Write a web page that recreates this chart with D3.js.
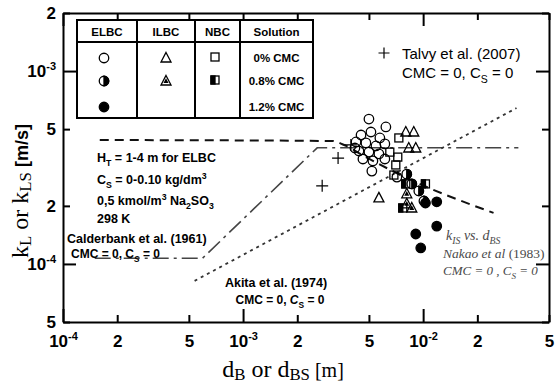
<!DOCTYPE html>
<html>
<head>
<meta charset="utf-8">
<script src="https://cdn.jsdelivr.net/npm/d3@7"></script>
<style>
  body { margin: 0; background: #fff; }
  svg { display: block; font-family: "Liberation Sans", Arial, sans-serif; }
</style>
</head>
<body>
<svg id="chart" width="555" height="387"></svg>
<script>
// tick values (log axes)
const xTicks = [1e-4, 2e-4, 5e-4, 1e-3, 2e-3, 5e-3, 1e-2, 2e-2, 5e-2];
const yTicks = [5e-5, 1e-4, 2e-4, 5e-4, 1e-3, 2e-3];

// [d (m), k (m/s)]
const elbc0 = [[5.0e-3, 5.64e-4], [6.21e-3, 5.13e-4], [4.52e-3, 4.66e-4], [5.13e-3, 4.83e-4],
  [5.75e-3, 4.50e-4], [4.24e-3, 4.29e-4], [4.81e-3, 4.24e-4], [5.47e-3, 4.09e-4],
  [6.13e-3, 4.19e-4], [4.40e-3, 3.85e-4], [5.0e-3, 3.80e-4], [5.68e-3, 3.72e-4],
  [4.63e-3, 3.50e-4], [5.26e-3, 3.42e-4], [6.13e-3, 3.50e-4], [5.19e-3, 3.03e-4],
  [4.18e-3, 3.99e-4], [7.15e-3, 2.82e-4]];
const elbc08 = [[8.11e-3, 2.92e-4], [9.46e-3, 2.39e-4], [1.01e-2, 2.12e-4], [8.65e-3, 2.60e-4]];
const elbc12 = [[1.03e-2, 2.07e-4], [1.19e-2, 2.10e-4], [1.19e-2, 1.57e-4], [9.10e-3, 1.43e-4], [9.70e-3, 1.21e-4]];
const ilbc0 = [[8.01e-3, 4.83e-4], [8.87e-3, 4.83e-4], [8.32e-3, 3.99e-4], [9.10e-3, 3.99e-4], [5.68e-3, 2.20e-4]];
const ilbc08 = [[8.11e-3, 2.31e-4], [8.11e-3, 2.05e-4], [8.65e-3, 1.95e-4]];
const nbc0 = [[7.33e-3, 4.50e-4], [6.53e-3, 3.80e-4], [7.23e-3, 3.58e-4], [7.05e-3, 3.26e-4], [6.88e-3, 2.89e-4]];
const nbc08 = [[8.01e-3, 2.60e-4], [1.03e-2, 2.60e-4], [7.71e-3, 1.95e-4]];
const talvy = [[3.37e-3, 3.54e-4], [2.75e-3, 2.54e-4], [3.97e-3, 4.14e-4]];

// correlation lines
const calderbank = [[1.5e-4, 1.07e-4], [5.95e-4, 1.07e-4], [2.58e-3, 4.0e-4], [3.38e-2, 4.0e-4]];
const nakao = [[1.6e-4, 4.39e-4], [3.12e-3, 4.34e-4], [3.73e-3, 4.09e-4], [4.69e-3, 3.63e-4], [8.11e-3, 2.79e-4], [2.46e-2, 1.84e-4]];
const akita = [[5.38e-4, 8.17e-5], [3.30e-2, 6.43e-4]];

// legend table
const legendHeaders = ['ELBC', 'ILBC', 'NBC', 'Solution'];
const legendRows = ['0% CMC', '0.8% CMC', '1.2% CMC'];

const W = 555, H = 387;
const plot = { left: 63, right: 549, top: 13, bottom: 322 };

const x = d3.scaleLog().domain([1e-4, 5e-2]).range([plot.left, plot.right]);
const y = d3.scaleLog().domain([5e-5, 2e-3]).range([plot.bottom, plot.top]);

const svg = d3.select('#chart');
svg.append('rect').attr('width', W).attr('height', H).attr('fill', '#fff');

const isMajor = v => Math.abs(Math.log10(v) - Math.round(Math.log10(v))) < 1e-6;

function tickLabels(sel) {
	sel.each(function(v) {
		const t = d3.select(this).text(null);
		if (isMajor(v)) {
			t.append('tspan').text('10');
			t.append('tspan').attr('dy', -7).attr('font-size', 11).text(Math.round(Math.log10(v)));
		} else {
			t.text(Math.round(v / 10 ** Math.floor(Math.log10(v))));
		}
	});
}

function styleAxis(g) {
	g.attr('font-family', '"Liberation Sans", Arial, sans-serif')
		.attr('font-size', 17).attr('font-weight', 'bold');
	g.select('.domain').attr('stroke-width', 2);
	g.selectAll('.tick line').attr('stroke-width', 2);
}

// axes (ticks point inwards, decades longer)
const axisB = svg.append('g').attr('transform', `translate(0,${plot.bottom})`)
	.call(d3.axisBottom(x).tickValues(xTicks).tickSizeInner(-7).tickSizeOuter(0).tickPadding(13));
const axisT = svg.append('g').attr('transform', `translate(0,${plot.top})`)
	.call(d3.axisTop(x).tickValues(xTicks).tickSizeInner(-7).tickSizeOuter(0).tickFormat(''));
const axisL = svg.append('g').attr('transform', `translate(${plot.left},0)`)
	.call(d3.axisLeft(y).tickValues(yTicks).tickSizeInner(-7).tickSizeOuter(0).tickPadding(7));
const axisR = svg.append('g').attr('transform', `translate(${plot.right},0)`)
	.call(d3.axisRight(y).tickValues(yTicks).tickSizeInner(-7).tickSizeOuter(0).tickFormat(''));
[axisB, axisT, axisL, axisR].forEach(styleAxis);
axisB.selectAll('.tick line').attr('y2', d => isMajor(d) ? -13 : -7);
axisT.selectAll('.tick line').attr('y2', d => isMajor(d) ? 13 : 7);
axisL.selectAll('.tick line').attr('x2', d => isMajor(d) ? 13 : 7);
axisR.selectAll('.tick line').attr('x2', d => isMajor(d) ? -13 : -7);
axisB.selectAll('.tick text').call(tickLabels);
axisL.selectAll('.tick text').call(tickLabels);

// correlation lines
const line = d3.line().x(d => x(d[0])).y(d => y(d[1]));
const lines = svg.append('g').attr('fill', 'none');
lines.append('path').attr('d', line(calderbank))
	.attr('stroke', '#444').attr('stroke-width', 1.6).attr('stroke-dasharray', '16,5,3,5');
lines.append('path').attr('d', line.curve(d3.curveMonotoneX)(nakao))
	.attr('stroke', '#111').attr('stroke-width', 2).attr('stroke-dasharray', '9,6');
line.curve(d3.curveLinear);
lines.append('path').attr('d', line(akita))
	.attr('stroke', '#333').attr('stroke-width', 1.8).attr('stroke-dasharray', '3,4');

// markers
function marker(g, shape, fill, cx, cy, s) {
	const m = g.append('g').attr('stroke', '#000').attr('stroke-width', 1.3);
	if (shape === 'circle') {
		const r = s / 2;
		m.append('circle').attr('cx', cx).attr('cy', cy).attr('r', r)
			.attr('fill', fill === 'full' ? '#000' : 'none');
		if (fill === 'half') m.append('path').attr('fill', '#000')
			.attr('d', `M${cx},${cy - r}A${r},${r} 0 0 1 ${cx},${cy + r}Z`);
	} else if (shape === 'square') {
		const h = s / 2;
		m.append('rect').attr('x', cx - h).attr('y', cy - h).attr('width', s).attr('height', s).attr('fill', 'none');
		if (fill === 'half') m.append('rect').attr('x', cx - h).attr('y', cy - h)
			.attr('width', h).attr('height', s).attr('fill', '#000');
	} else if (shape === 'triangle') {
		const tri = k => `M${cx},${cy - s * 0.55 * k}L${cx + s / 2 * k},${cy + s * 0.4 * k}L${cx - s / 2 * k},${cy + s * 0.4 * k}Z`;
		m.append('path').attr('d', tri(1)).attr('fill', 'none');
		if (fill === 'half') m.append('path').attr('d', tri(0.5)).attr('fill', '#000').attr('stroke', 'none');
	} else if (shape === 'plus') {
		const h = s / 2;
		m.append('path').attr('d', `M${cx - h},${cy}H${cx + h}M${cx},${cy - h}V${cy + h}`).attr('stroke-width', 1.2);
	}
}

const pts = svg.append('g');
[[elbc0, 'circle', 'open', 9.5], [nbc0, 'square', 'open', 8], [ilbc0, 'triangle', 'open', 10],
 [talvy, 'plus', 'open', 12], [elbc08, 'circle', 'half', 9.5], [nbc08, 'square', 'half', 8],
 [ilbc08, 'triangle', 'half', 10], [elbc12, 'circle', 'full', 9.5]]
	.forEach(([data, shape, fill, s]) => data.forEach(d => marker(pts, shape, fill, x(d[0]), y(d[1]), s)));

// rich text helper: parts are strings or [text, 'sub'|'sup'|null, extraAttrs]
function rich(g, px, py, parts, size, attrs, subShift = 0.3) {
	const t = g.append('text').attr('x', px).attr('y', py).attr('font-size', size);
	Object.entries(attrs || {}).forEach(([k, v]) => t.attr(k, v));
	let shift = 0;
	parts.forEach(p => {
		const [str, mode, extra] = typeof p === 'string' ? [p] : p;
		const target = mode === 'sub' ? size * subShift : mode === 'sup' ? -size * 0.4 : 0;
		const ts = t.append('tspan').attr('dy', target - shift).text(str);
		if (mode) ts.attr('font-size', size * 0.7);
		Object.entries(extra || {}).forEach(([k, v]) => ts.attr(k, v));
		shift = target;
	});
	return t;
}

// legend table
const cols = [77, 137, 195, 240, 313];
const rowsY = [20, 42, 118];
const rowC = [58, 81, 107];
const lg = svg.append('g');
lg.append('rect').attr('x', cols[0]).attr('y', rowsY[0]).attr('width', cols[4] - cols[0])
	.attr('height', rowsY[2] - rowsY[0]).attr('fill', '#fff').attr('stroke', '#000').attr('stroke-width', 2);
lg.append('line').attr('x1', cols[0]).attr('x2', cols[4]).attr('y1', rowsY[1]).attr('y2', rowsY[1])
	.attr('stroke', '#000').attr('stroke-width', 2);
cols.slice(1, 4).forEach(c => lg.append('line').attr('x1', c).attr('x2', c)
	.attr('y1', rowsY[0]).attr('y2', rowsY[2]).attr('stroke', '#000').attr('stroke-width', 2));
legendHeaders.forEach((h, i) => lg.append('text').attr('x', (cols[i] + cols[i + 1]) / 2).attr('y', 36)
	.attr('text-anchor', 'middle').attr('font-size', 11.5).attr('font-weight', 'bold').text(h));
legendRows.forEach((r, i) => lg.append('text').attr('x', (cols[3] + cols[4]) / 2).attr('y', rowC[i] + 4)
	.attr('text-anchor', 'middle').attr('font-size', 11.5).attr('font-weight', 'bold').text(r));
const fills = ['open', 'half', 'full'];
legendRows.forEach((r, i) => marker(lg, 'circle', fills[i], 104, rowC[i], 9.5));
legendRows.slice(0, 2).forEach((r, i) => marker(lg, 'triangle', fills[i], 166, rowC[i], 10));
legendRows.slice(0, 2).forEach((r, i) => marker(lg, 'square', fills[i], 215, rowC[i] - 1, 8));

// Talvy legend
marker(svg, 'plus', 'open', 384, 53, 11);
svg.append('text').attr('x', 402).attr('y', 59).attr('font-size', 15).text('Talvy et al. (2007)');
rich(svg, 402, 78, ['CMC = 0, C', ['S', 'sub'], ' = 0'], 15);

// annotations
const ann = svg.append('g').attr('font-weight', 'bold');
rich(ann, 97, 162, ['H', ['T', 'sub'], ' = 1-4 m for ELBC'], 12.5);
rich(ann, 97, 184, ['C', ['S', 'sub'], ' = 0-0.10 kg/dm', ['3', 'sup']], 12.5);
rich(ann, 97, 205, ['0,5 kmol/m', ['3', 'sup'], ' Na', ['2', 'sub'], 'SO', ['3', 'sub']], 12.5);
rich(ann, 97, 223, ['298 K'], 12.5);
rich(ann, 67, 243, ['Calderbank et al. (1961)'], 12.5);
rich(ann, 71, 258, ['CMC = 0, C', ['S', 'sub', { 'font-style': 'italic' }], ' = 0'], 12);
rich(ann, 276, 287, ['Akita et al. (1974)'], 12.5, { 'text-anchor': 'middle' });
rich(ann, 280, 304, ['CMC = 0, ', ['C', null, { 'font-style': 'italic' }], ['S', 'sub'], ' = 0'], 12, { 'text-anchor': 'middle' });

// Nakao annotation
const nk = svg.append('g').attr('font-family', '"Liberation Serif", "Times New Roman", serif')
	.attr('font-style', 'italic').attr('fill', '#4a4a4a');
rich(nk, 446, 240, ['k', ['IS', 'sub'], ' vs. d', ['BS', 'sub']], 14);
rich(nk, 443, 258, ['Nakao et al ', ['(1983)', null, { 'font-style': 'normal' }]], 13.5);
rich(nk, 443, 275, ['CMC = 0 , C', ['S', 'sub'], ' = 0'], 13);

// axis titles
const serif = '"Liberation Serif", "Times New Roman", serif';
rich(svg, 283, 377, ['d', ['B', 'sub'], ' or d', ['BS', 'sub'], ['  [m]', null, { 'font-size': 20 }]], 24,
	{ 'text-anchor': 'middle', 'font-family': serif }, 0.12);
rich(svg, 0, 0, ['k', ['L', 'sub'], ' or k', ['LS', 'sub'],
	['  [m/s]', null, { 'font-size': 18, 'font-weight': 'bold', 'font-family': '"Liberation Sans", Arial, sans-serif' }]], 24,
	{ 'text-anchor': 'middle', 'font-family': serif, transform: 'translate(28,191) rotate(-90)' }, 0.12);
</script>
</body>
</html>
